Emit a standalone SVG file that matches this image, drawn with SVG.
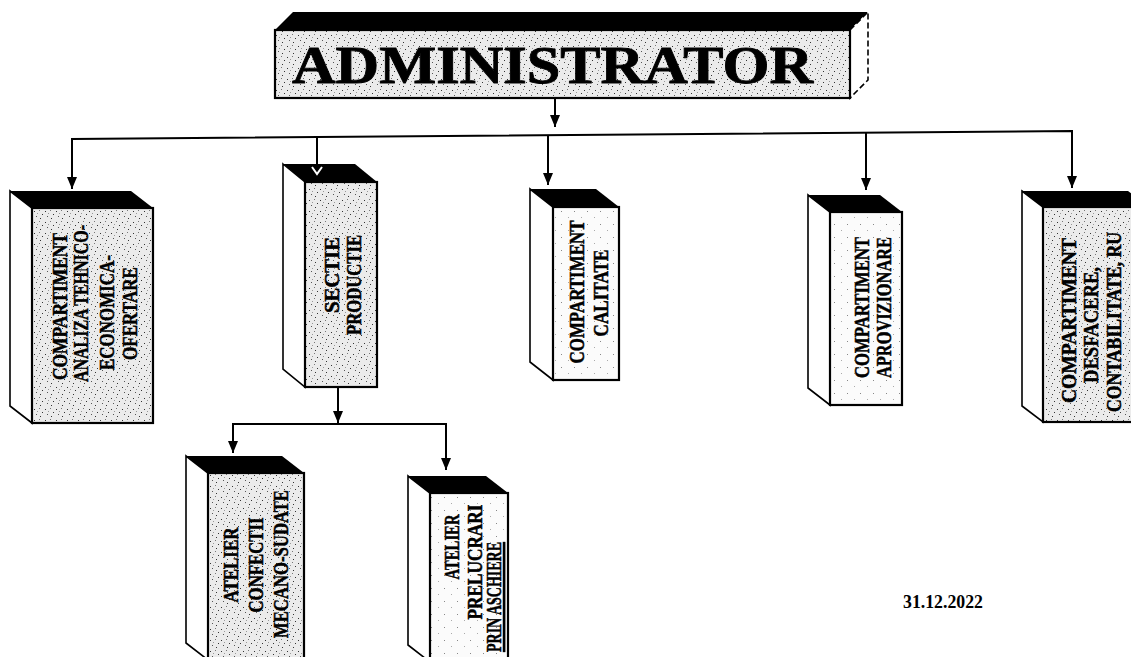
<svg xmlns="http://www.w3.org/2000/svg" width="1131" height="657" viewBox="0 0 1131 657">
<defs>
<pattern id="dense" width="11" height="11" patternUnits="userSpaceOnUse">
<rect width="11" height="11" fill="#ebebeb"/>
<rect x="1" y="2" width="1" height="1" fill="#333"/>
<rect x="6" y="1" width="1" height="1" fill="#777"/>
<rect x="9" y="5" width="1" height="1" fill="#333"/>
<rect x="3" y="7" width="1" height="1" fill="#555"/>
<rect x="7" y="9" width="1" height="1" fill="#333"/>
<rect x="4" y="4" width="1" height="1" fill="#999"/>
</pattern>
<pattern id="light" width="13" height="13" patternUnits="userSpaceOnUse">
<rect width="13" height="13" fill="#fbfbfb"/>
<rect x="2" y="3" width="1" height="1" fill="#888"/>
<rect x="9" y="9" width="1" height="1" fill="#aaa"/>
</pattern>
<marker id="ah" viewBox="0 0 12 10" markerWidth="12" markerHeight="10" refX="12" refY="5" orient="auto" markerUnits="userSpaceOnUse">
<path d="M0,0 L12,5 L0,10 z" fill="#000"/>
</marker>
</defs>
<style>
.top{fill:#000}
.side{fill:#fff;stroke:#000;stroke-width:1.6}
.front{stroke:#000;stroke-width:2.2}
.lbl{font-family:"Liberation Serif","Times New Roman",serif;font-weight:bold;font-size:21px;fill:#000;stroke:#000;stroke-width:0.5}
.con{stroke:#000;stroke-width:2;fill:none}
</style>
<rect width="1131" height="657" fill="#fff"/>

<g id="administrator">
<polygon class="top" points="293,12 868,12 850,30 275,30"/>
<polygon class="side" points="850,30 868,12 868,80 850,98" stroke-dasharray="6 3"/>
<rect class="front" x="275" y="30" width="575" height="68" fill="url(#dense)"/>
<text x="292" y="83" textLength="521" lengthAdjust="spacingAndGlyphs" font-family="Liberation Serif, Times New Roman, serif" font-weight="bold" font-size="52" stroke="#000" stroke-width="0.8">ADMINISTRATOR</text>
</g>

<g id="connectors">
<line class="con" x1="555" y1="98" x2="555" y2="127" marker-end="url(#ah)"/>
<polyline class="con" points="72,189 72,139 1072,131 1072,188"/>
<line class="con" x1="72" y1="150" x2="72" y2="189" marker-end="url(#ah)"/>
<line class="con" x1="317" y1="137" x2="317" y2="164"/>
<line class="con" x1="548" y1="135" x2="548" y2="185" marker-end="url(#ah)"/>
<line class="con" x1="866" y1="132.6" x2="866" y2="190" marker-end="url(#ah)"/>
<line class="con" x1="1072" y1="140" x2="1072" y2="188" marker-end="url(#ah)"/>
<line class="con" x1="338" y1="387" x2="338" y2="423" marker-end="url(#ah)"/>
<polyline class="con" points="233,453 233,424 446,424 446,470"/>
<line class="con" x1="233" y1="430" x2="233" y2="453" marker-end="url(#ah)"/>
<line class="con" x1="446" y1="440" x2="446" y2="470" marker-end="url(#ah)"/>
</g>

<g id="compartiment-analiza">
<polygon class="top" points="10,191 131,191 153,208 32,208"/>
<polygon class="side" points="10,191 32,208 32,423 10,406"/>
<rect class="front" x="32" y="208" width="121" height="215" fill="url(#dense)"/>
<text class="lbl" transform="translate(67,306.5) rotate(-90)" text-anchor="middle" textLength="147" lengthAdjust="spacingAndGlyphs">COMPARTIMENT</text>
<text class="lbl" transform="translate(88,303.5) rotate(-90)" text-anchor="middle" textLength="157" lengthAdjust="spacingAndGlyphs">ANALIZA TEHNICO-</text>
<text class="lbl" transform="translate(114,312.5) rotate(-90)" text-anchor="middle" textLength="115" lengthAdjust="spacingAndGlyphs">ECONOMICA-</text>
<text class="lbl" transform="translate(137,313.5) rotate(-90)" text-anchor="middle" textLength="93" lengthAdjust="spacingAndGlyphs">OFERTARE</text>
</g>

<g id="sectie-productie">
<polygon class="top" points="283,164 355,164 377,182 305,182"/>
<polyline points="312,167 317,174 322,167" fill="none" stroke="#fff" stroke-width="2"/>
<polygon class="side" points="283,164 305,182 305,387 283,369"/>
<rect class="front" x="305" y="182" width="72" height="205" fill="url(#dense)"/>
<text class="lbl" transform="translate(339,237) rotate(-90)" text-anchor="end" textLength="76" lengthAdjust="spacingAndGlyphs">SECTIE</text>
<text class="lbl" transform="translate(361,235) rotate(-90)" text-anchor="end" textLength="100" lengthAdjust="spacingAndGlyphs">PRODUCTIE</text>
</g>

<g id="compartiment-calitate">
<polygon class="top" points="530,189 596,189 619,207 553,207"/>
<polygon class="side" points="530,189 553,207 553,380 530,362"/>
<rect class="front" x="553" y="207" width="66" height="173" fill="url(#light)"/>
<text class="lbl" transform="translate(584,292) rotate(-90)" text-anchor="middle" textLength="143" lengthAdjust="spacingAndGlyphs">COMPARTIMENT</text>
<text class="lbl" transform="translate(608,293) rotate(-90)" text-anchor="middle" textLength="87" lengthAdjust="spacingAndGlyphs">CALITATE</text>
</g>

<g id="compartiment-aprovizionare">
<polygon class="top" points="808,195 880,195 902,212 830,212"/>
<polygon class="side" points="808,195 830,212 830,405 808,388"/>
<rect class="front" x="830" y="212" width="72" height="193" fill="url(#light)"/>
<text class="lbl" transform="translate(869,307.5) rotate(-90)" text-anchor="middle" textLength="141" lengthAdjust="spacingAndGlyphs">COMPARTIMENT</text>
<text class="lbl" transform="translate(891,307.5) rotate(-90)" text-anchor="middle" textLength="141" lengthAdjust="spacingAndGlyphs">APROVIZIONARE</text>
</g>

<g id="compartiment-desfacere">
<polygon class="top" points="1022,191 1128,191 1150,207 1043,207"/>
<polygon class="side" points="1022,191 1043,207 1043,422 1022,406"/>
<rect class="front" x="1043" y="207" width="107" height="215" fill="url(#dense)"/>
<text class="lbl" transform="translate(1076,320.5) rotate(-90)" text-anchor="middle" textLength="165" lengthAdjust="spacingAndGlyphs">COMPARTIMENT</text>
<text class="lbl" transform="translate(1098,325) rotate(-90)" text-anchor="middle" textLength="116" lengthAdjust="spacingAndGlyphs">DESFACERE,</text>
<text class="lbl" transform="translate(1121,322) rotate(-90)" text-anchor="middle" textLength="180" lengthAdjust="spacingAndGlyphs">CONTABILITATE, RU</text>
</g>

<g id="atelier-confectii">
<polygon class="top" points="186,456 282,456 304,473 208,473"/>
<polygon class="side" points="186,456 208,473 208,660 186,643"/>
<rect class="front" x="208" y="473" width="96" height="190" fill="url(#dense)"/>
<text class="lbl" transform="translate(238,565) rotate(-90)" text-anchor="middle" textLength="75" lengthAdjust="spacingAndGlyphs">ATELIER</text>
<text class="lbl" transform="translate(263,565) rotate(-90)" text-anchor="middle" textLength="95" lengthAdjust="spacingAndGlyphs">CONFECTII</text>
<text class="lbl" transform="translate(288,564) rotate(-90)" text-anchor="middle" textLength="148" lengthAdjust="spacingAndGlyphs">MECANO-SUDATE</text>
</g>

<g id="atelier-prelucrari">
<polygon class="top" points="408,476 486,476 508,493 430,493"/>
<polygon class="side" points="408,476 430,493 430,662 408,645"/>
<rect class="front" x="430" y="493" width="78" height="170" fill="url(#light)"/>
<text class="lbl" transform="translate(459,547) rotate(-90)" text-anchor="middle" textLength="65" lengthAdjust="spacingAndGlyphs">ATELIER</text>
<text class="lbl" transform="translate(482,562) rotate(-90)" text-anchor="middle" textLength="115" lengthAdjust="spacingAndGlyphs">PRELUCRARI</text>
<text class="lbl" transform="translate(501,597) rotate(-90)" text-anchor="middle" textLength="110" lengthAdjust="spacingAndGlyphs" text-decoration="underline">PRIN ASCHIERE</text>
</g>

<g id="date">
<text x="903" y="608" font-family="Liberation Serif, Times New Roman, serif" font-weight="bold" font-size="19" textLength="80" lengthAdjust="spacingAndGlyphs">31.12.2022</text>
</g>
</svg>
